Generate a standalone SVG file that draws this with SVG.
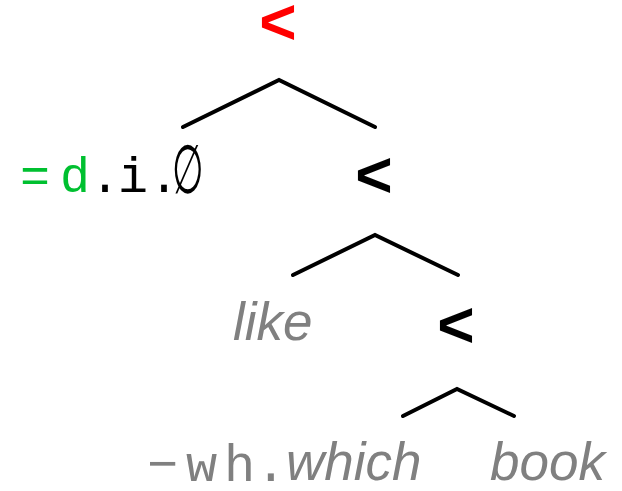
<svg xmlns="http://www.w3.org/2000/svg" width="622" height="491" viewBox="0 0 622 491">
<style>
.op{font-family:"Liberation Sans",Arial,sans-serif;font-weight:bold;font-size:64px;text-anchor:middle}
.mono{font-family:"Liberation Mono","Courier New",monospace;font-size:50px}
.it{font-family:"Liberation Sans",Arial,sans-serif;font-style:italic;font-size:53px;fill:#808080}
.edge{fill:none;stroke:#000;stroke-width:4;stroke-linecap:round;stroke-linejoin:miter}
</style>
<rect width="622" height="491" fill="#fff"/>
<g id="connectors">
<polyline class="edge" points="183,127 279,80 375,127"/>
<polyline class="edge" points="293,275 375,235 458,275"/>
<polyline class="edge" points="403,416 457,389 514,416"/>
</g>
<g id="root"><text class="op" x="278" y="44" fill="#ff0000">&lt;</text></g>
<g id="leaf-di">
<text class="mono" x="20" y="192"><tspan fill="#00c030" dx="0 10">=d</tspan><tspan fill="#000" dx="0 -2 1">.i.</tspan></text>
<text font-family="DejaVu Serif" font-size="50" text-anchor="middle" transform="translate(188,193) scale(0.72,1.35)" fill="#000">∅</text>
</g>
<g id="node2"><text class="op" x="374" y="197" fill="#000">&lt;</text></g>
<g id="leaf-like"><text class="it" x="233" y="340">like</text></g>
<g id="node3"><text class="op" x="456" y="347" fill="#000">&lt;</text></g>
<g id="leaf-which">
<text class="mono" x="147" y="481" dx="0 7.8 6.8 0" style="font-size:52px" fill="#808080">−wh.</text>
<text class="it" x="286" y="480">which</text>
</g>
<g id="leaf-book"><text class="it" x="490" y="480">book</text></g>
</svg>
